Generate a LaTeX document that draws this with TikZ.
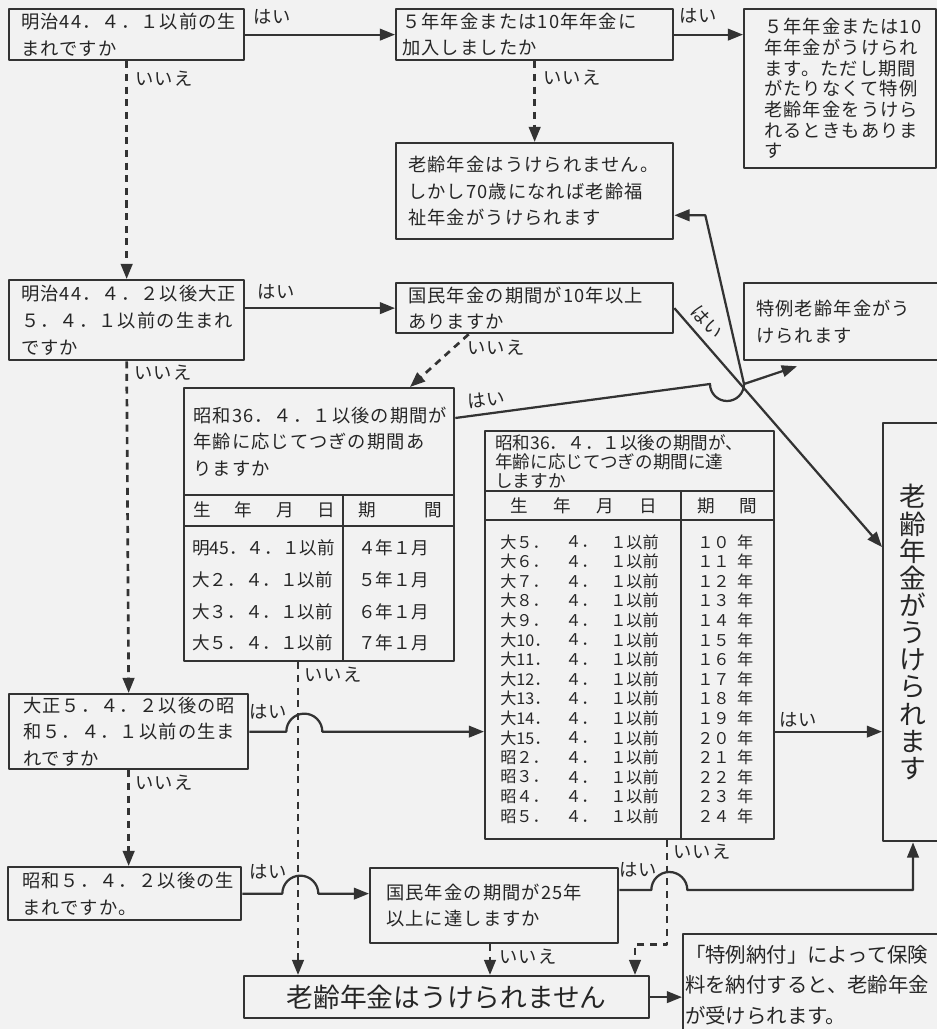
\documentclass[tikz,border=0pt]{standalone}
\usepackage{fontspec}
\setmainfont{Noto Sans CJK JP}
\newfontfamily\jpwide[LetterSpace=6]{Noto Sans CJK JP}
\usetikzlibrary{arrows.meta,calc}

\begin{document}
\begin{tikzpicture}[
  x=0.025cm, y=-0.025cm,
  line join=round,
  box/.style = {draw=black!80, line width=1.6pt, anchor=north west,
    inner xsep=0.3cm, inner ysep=0pt, align=left, text=black!85,
    font=\jpwide\fontsize{13}{19}\selectfont},
  tbl/.style = {draw=black!80, line width=1.6pt, anchor=north west, inner sep=0pt},
  rule/.style = {draw=black!80, line width=1.5pt},
  txt/.style = {inner sep=0pt, anchor=west, align=left, text=black!85,
    font=\jpwide\fontsize{13}{19}\selectfont},
  cell/.style = {txt, font=\fontsize{12.5}{15}\selectfont},
  row/.style = {txt, font=\fontsize{11.5}{13}\selectfont},
  lbl/.style = {inner sep=0pt, text=black!85, font=\jpwide\fontsize{13}{15}\selectfont},
  yes/.style = {draw=black!80, line width=1.6pt, -{Triangle[length=0.38cm,width=0.29cm]}},
  no/.style = {yes, line width=1.9pt, dash pattern=on 5pt off 4pt}
  ]
  \useasboundingbox (0,0) rectangle (937,1029);
  \clip (0,0) rectangle (937,1029);
  \fill[black!5] (0,0) rectangle (937,1029);

  % left column of questions
  \node[box, minimum width=5.875cm, minimum height=1.275cm, text width=5.275cm] (a1) at (8,8)
    {明治44．４．１以前の生\\まれですか};
  \node[box, minimum width=5.875cm, minimum height=2cm, text width=5.275cm] (a2) at (8,279)
    {明治44．４．２以後大正\\５．４．１以前の生まれ\\ですか};
  \node[box, minimum width=5.875cm, minimum height=1.875cm, text width=5.275cm, inner xsep=0.35cm] (a3) at (8,693)
    {大正５．４．２以後の昭\\和５．４．１以前の生ま\\れですか};
  \node[box, minimum width=5.825cm, minimum height=1.325cm, text width=5.125cm, inner xsep=0.35cm] (a4) at (7,866)
    {昭和５．４．２以後の生\\まれですか。};

  % middle column
  \node[box, minimum width=6.925cm, minimum height=1.275cm, text width=6.625cm, inner xsep=0.15cm] (b1) at (395,8)
    {５年年金または10年年金に\\加入しましたか};
  \node[box, minimum width=6.925cm, minimum height=2.4cm, text width=6.325cm] (d1) at (395,142)
    {老齢年金はうけられません。\\しかし70歳になれば老齢福\\祉年金がうけられます};
  \node[box, minimum width=6.925cm, minimum height=1.25cm, text width=6.325cm] (b2) at (395,282)
    {国民年金の期間が10年以上\\ありますか};
  \node[box, minimum width=6.2cm, minimum height=1.875cm, text width=5.4cm, inner xsep=0.4cm] (b3) at (369,867)
    {国民年金の期間が25年\\以上に達しますか};
  \node[box, minimum width=10.125cm, minimum height=1.05cm, align=center, inner xsep=0pt,
    font=\fontsize{19}{22}\selectfont] (f) at (243,975) {老齢年金はうけられません};

  % right column
  \node[box, minimum width=4.8cm, minimum height=3.975cm, text width=3.8cm, inner xsep=0.5cm,
    font=\jpwide\fontsize{13}{14.7}\selectfont] (c1) at (743,8)
    {５年年金または10\\年年金がうけられ\\ます。ただし期間\\がたりなくて特例\\老齢年金をうけら\\れるときもありま\\す};
  \node[box, minimum width=5.05cm, minimum height=1.925cm, text width=4.45cm] (e2) at (743,282)
    {特例老齢年金がう\\けられます};
  \node[box, minimum width=1.7cm, minimum height=10.45cm, text width=0.9cm, inner xsep=0.4cm,
    font=\fontsize{19}{19.3}\selectfont] (g) at (882,422)
    {老\\齢\\年\\金\\が\\う\\け\\ら\\れ\\ま\\す};
  \node[box, minimum width=6.7cm, minimum height=2.55cm, text width=6.6cm, inner xsep=0.05cm,
    font=\fontsize{14.5}{22}\selectfont] (h) at (682,933)
    {「特例納付」によって保険\\料を納付すると、老齢年金\\が受けられます。};

  % table 1
  \node[tbl, minimum width=6.75cm, minimum height=6.825cm] (t1) at (183,387) {};
  \draw[rule] ($(t1.north west)+(0,108)$) -- ($(t1.north east)+(0,108)$)
    ($(t1.north west)+(0,139)$) -- ($(t1.north east)+(0,139)$)
    ($(t1.north west)+(160,108)$) -- ($(t1.south west)+(160,0)$);
  \node[txt] (t1h) at ($(t1.north west)+(10,54.5)$)
    {昭和36．４．１以後の期間が\\年齢に応じてつぎの期間あ\\りますか};
  \node[cell] (t1c1) at ($(t1.north west)+(10,123)$) {\makebox[3.55cm][l]{生\hfill 年\hfill 月\hfill 日}};
  \node[cell] (t1c2) at ($(t1.north west)+(175,123)$) {\makebox[2.1cm][l]{期\hfill 間}};
  \foreach \bd/\pd [count=\i from 0] in {明45．４．１以前/４年１月, 大２．４．１以前/５年１月,
      大３．４．１以前/６年１月, 大５．４．１以前/７年１月} {
    \node[cell] (t1a\i) at ($(t1.north west)+(9,{161+31.7*\i})$) {\bd};
    \node[cell] (t1b\i) at ($(t1.north west)+(175,{161+31.7*\i})$) {\pd};
  }

  % table 2
  \node[tbl, minimum width=7.225cm, minimum height=10.2cm] (t2) at (484,430) {};
  \draw[rule] ($(t2.north west)+(0,61)$) -- ($(t2.north east)+(0,61)$)
    ($(t2.north west)+(0,90)$) -- ($(t2.north east)+(0,90)$)
    ($(t2.north west)+(197,61)$) -- ($(t2.south west)+(197,0)$);
  \node[txt, font=\fontsize{12.5}{13.5}\selectfont] (t2h) at ($(t2.north west)+(11,31.5)$)
    {昭和36．４．１以後の期間が、\\年齢に応じてつぎの期間に達\\しますか};
  \node[cell] (t2c1) at ($(t2.north west)+(26,76)$) {\makebox[3.675cm][l]{生\hfill 年\hfill 月\hfill 日}};
  \node[cell] (t2c2) at ($(t2.north west)+(213,76)$) {\makebox[1.5cm][l]{期\hfill 間}};
  \foreach \era/\pd [count=\i from 0] in {大５/１０,大６/１１,大７/１２,大８/１３,大９/１４,
      大10/１５,大11/１６,大12/１７,大13/１８,大14/１９,大15/２０,昭２/２１,昭３/２２,昭４/２３,昭５/２４} {
    \node[row] (t2a\i) at ($(t2.north west)+(16,{112+19.6*\i})$) {\era．};
    \node[row] (t2b\i) at ($(t2.north west)+(81,{112+19.6*\i})$) {４．};
    \node[row] (t2c\i) at ($(t2.north west)+(126,{112+19.6*\i})$) {１以前};
    \node[row] (t2d\i) at ($(t2.north west)+(213,{112+19.6*\i})$) {\makebox[1.4cm][l]{\pd\hfill 年}};
  }

  % yes branches
  \draw[yes] (a1.east) -- (b1.west);
  \draw[yes] (b1.east) -- (b1.east -| c1.west);
  \draw[yes] (a2.east |- b2.west) -- (b2.west);
  \draw[yes] (b2.east) -- node[lbl, sloped, above=5pt, pos=.1] (y4) {はい} ($(g.north west)+(0,125)$);
  \draw[yes] ($(t1.north east)+(0,31)$) -- (710,384)
    arc[start angle=180, end angle=360, radius=0.425cm] coordinate (jn)
    -- ($(e2.south west)+(54,5)$);
  \draw[yes] (jn) -- ($(d1.south east)+(31,-25)$) -- ($(d1.south east)+(0,-25)$);
  \draw[yes] (a3.east) -- ++(37,0) arc[start angle=180, end angle=0, radius=0.45cm]
    -- (a3.east -| t2.west);
  \draw[yes] (a3.east -| t2.east) -- (a3.east -| g.west);
  \draw[yes] (a4.east) -- ++(40,0) arc[start angle=180, end angle=0, radius=0.45cm]
    -- (a4.east -| b3.west);
  \draw[yes] ($(b3.north east)+(0,23)$) -- ++(32,0) arc[start angle=180, end angle=0, radius=0.45cm]
    -| ($(g.south west)+(31,0)$);
  \draw[yes] (f.east) -- (f.east -| h.west);

  % no branches
  \draw[no] (a1.south) -- (a2.north);
  \draw[no] (a2.south) -- (a3.north);
  \draw[no] (a3.south) -- (a3.south |- a4.north);
  \draw[no] (b1.south) -- (d1.north);
  \draw[no] ($(b2.south)+(-66,0)$) -- ($(t1.north west)+(227,0)$);
  \draw[no] ($(t1.south west)+(115,0)$) -- ($(f.north west)+(55,0)$);
  \draw[no] ($(b3.south west)+(121,0)$) -- ($(f.north west)+(247,0)$);
  \draw[no] ($(t2.south west)+(183,0)$) |- ++(-32,104) -- ($(f.north west)+(392,0)$);

  % labels
  \node[lbl] (y1) at (272,17) {はい};
  \node[lbl] (y2) at (698,16) {はい};
  \node[lbl] (n1) at (164,79) {いいえ};
  \node[lbl] (n2) at (572,78) {いいえ};
  \node[lbl] (y3) at (276,292) {はい};
  \node[lbl] (n3) at (163,373) {いいえ};
  \node[lbl] (n4) at (496,348) {いいえ};
  \node[lbl, rotate=7] (y5) at (486,400) {はい};
  \node[lbl] (n5) at (333,675) {いいえ};
  \node[lbl] (y6) at (268,712) {はい};
  \node[lbl] (n6) at (164,783) {いいえ};
  \node[lbl] (y7) at (798,720) {はい};
  \node[lbl] (y8) at (268,872) {はい};
  \node[lbl] (n7) at (702,852) {いいえ};
  \node[lbl] (y9) at (638,870) {はい};
  \node[lbl] (n8) at (528,957) {いいえ};
\end{tikzpicture}
\end{document}
